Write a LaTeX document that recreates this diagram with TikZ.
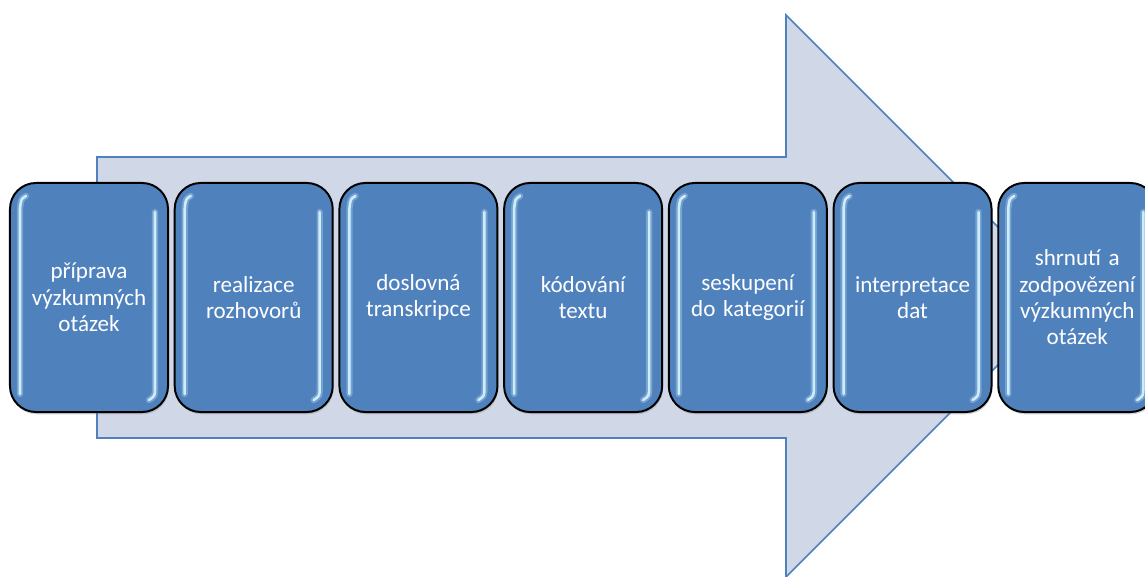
\documentclass[tikz,border=0pt]{standalone}
\usepackage{fontspec}
\setmainfont{Carlito}
\usetikzlibrary{positioning,shadows}
\definecolor{stepblue}{HTML}{4F81BD}
\definecolor{arrowfill}{HTML}{D0D8E8}
\definecolor{glow}{HTML}{D2F0FF}
\tikzset{
  stage/.style={draw=black, line width=1.4pt, fill=stepblue, rounded corners=0.65cm,
    minimum width=3.95cm, minimum height=5.725cm, text width=3.8cm, align=center,
    text=white, font=\fontsize{16.4}{18.7}\selectfont, inner sep=0pt,
    drop shadow={shadow xshift=0.6pt, shadow yshift=-1.6pt, opacity=0.35}},
  glowsoft/.style={line cap=round, draw=glow, line width=4.5pt, opacity=0.3},
  glowline/.style={line cap=round, draw=glow, line width=1.8pt, opacity=0.95}
}
\begin{document}
\begin{tikzpicture}[x=0.025cm, y=-0.025cm]
\useasboundingbox (0,0) rectangle (1145,577);
\clip (0,0) rectangle (1145,577);
\draw[draw=stepblue, fill=arrowfill, line width=1.1pt] (97,157) -- (786,157) -- (786,15) -- (1067,296) -- (786,577) -- (786,438) -- (97,438) -- cycle;
\node[stage] (s1) at (89,297.5) {příprava\\výzkumných\\otázek};
\node[stage, right=0.1175cm of s1] (s2) {realizace\\rozhovorů};
\node[stage, right=0.1175cm of s2] (s3) {doslovná\\transkripce};
\node[stage, right=0.1175cm of s3] (s4) {kódování\\textu};
\node[stage, right=0.1175cm of s4] (s5) {seskupení\\do kategorií};
\node[stage, right=0.1175cm of s5] (s6) {interpretace\\dat};
\node[stage, right=0.1175cm of s6] (s7) {shrnutí a\\zodpovězení\\výzkumných\\otázek};
\foreach \i in {1,...,7}{
  \begin{scope}[shift={(s\i.north west)}]
    \draw[glowsoft] (17,14) .. controls (12,17) .. (11,27) -- (11,212);
    \draw[glowsoft] (146,30) -- (146,205) .. controls (146,214) .. (140,218);
    \draw[glowline] (17,14) .. controls (12,17) .. (11,27) -- (11,212);
    \draw[glowline] (146,30) -- (146,205) .. controls (146,214) .. (140,218);
  \end{scope}
}
\end{tikzpicture}
\end{document}
